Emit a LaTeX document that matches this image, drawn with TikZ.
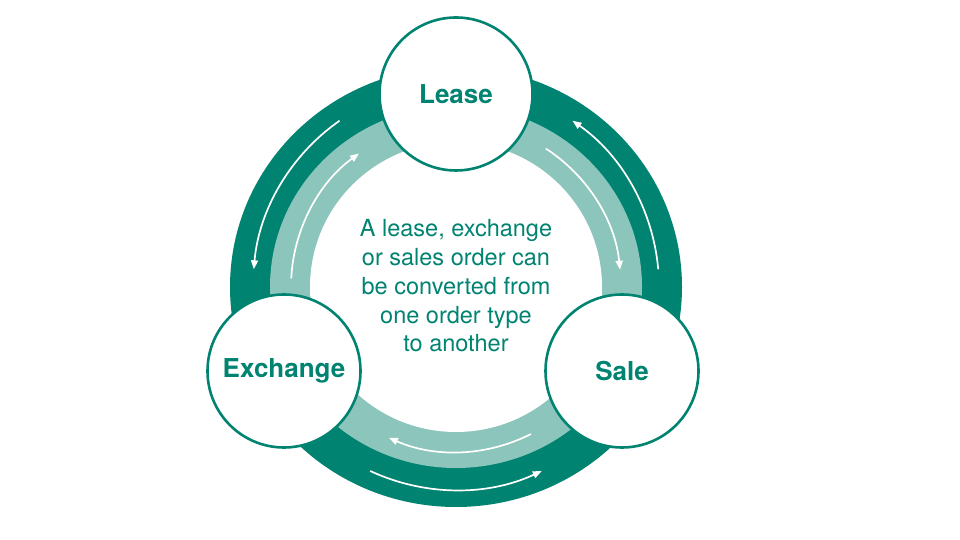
\documentclass[tikz,border=0pt]{standalone}
\usepackage{fontspec}
\setmainfont{TeX Gyre Heros}
\usetikzlibrary{arrows.meta}
\definecolor{teal}{RGB}{0,131,113}
\definecolor{paleteal}{RGB}{140,197,187}
\begin{document}
\begin{tikzpicture}[x=1pt, y=1pt,
    stage/.style ={circle, draw=teal, line width=2.6pt, fill=white, text=teal,
      minimum size=153pt, inner sep=0pt, font=\fontsize{26}{30}\selectfont\bfseries},
    flow/.style ={white, line width=1.7pt, -{Triangle[length=9pt, width=7pt]}}]
   \useasboundingbox[fill=white] (0,0) rectangle (960,540);
   \coordinate (hub) at (456,253);

   \fill[teal] (hub) ellipse [x radius=226pt, y radius=220pt];
   \fill[paleteal] (hub) ellipse [x radius=186pt, y radius=181pt];
   \fill[white] (hub) ellipse [x radius=146pt, y radius=145pt];

   \foreach \a in {125,5,245} {
     \draw[flow] ([shift={(\a:203)}]hub) arc [start angle=\a, end angle=\a+50, radius=203pt];
     \draw[flow] ([shift={(\a+52:165)}]hub) arc [start angle=\a+52, end angle=\a+1, radius=165pt];
   }

   \node[stage] (Lease)    at (456,446) {Lease};
   \node[stage] (Exchange) at (284,169) {Exchange};
   \node[stage] (Sale)     at (622,169) {Sale};

   \node[text=teal, align=center, inner sep=0pt, font=\fontsize{23.5}{28.75}\selectfont]
     (note) at (456,254) {A lease, exchange\\or sales order can\\be converted from\\one order type\\to another};
 \end{tikzpicture}
\end{document}
